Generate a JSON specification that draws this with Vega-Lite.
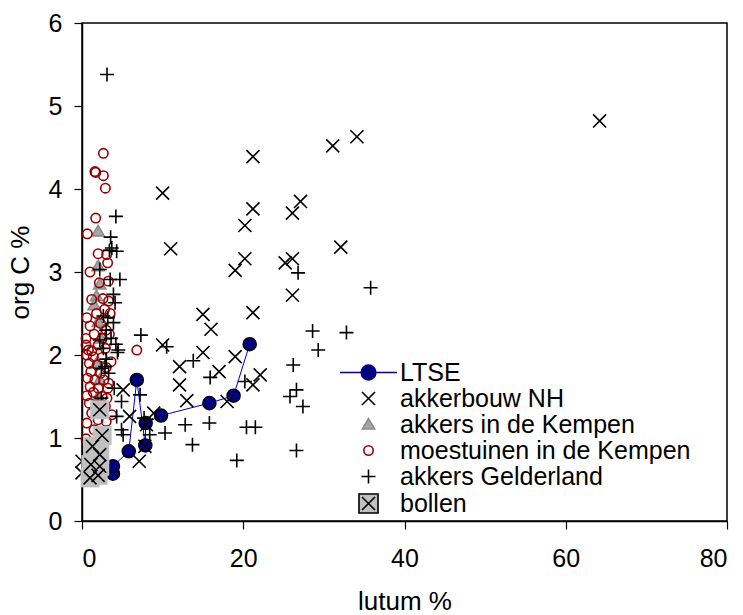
{
  "$schema": "https://vega.github.io/schema/vega-lite/v6.json",
  "autosize": "none",
  "width": 645,
  "height": 498,
  "padding": {"left": 82, "top": 23, "right": 16, "bottom": 94},
  "background": "white",
  "config": {
    "view": {"stroke": "black", "strokeWidth": 1.5},
    "font": "Liberation Sans",
    "axis": {
      "grid": false, "domainColor": "black", "domainWidth": 1.5,
      "tickColor": "black", "tickWidth": 1.2, "tickSize": 8,
      "labelFont": "Liberation Sans", "labelFontSize": 25, "labelColor": "black",
      "titleFont": "Liberation Sans", "titleFontSize": 26, "titleFontWeight": "normal", "titleColor": "black"
    },
    "legend": {"labelFont": "Liberation Sans", "labelFontSize": 25, "labelColor": "black", "labelLimit": 500}
  },
  "datasets": {
    "ltse": [
      {"s": "LTSE", "o": 1, "x": 3.84, "y": 0.57},
      {"s": "LTSE", "o": 2, "x": 3.84, "y": 0.66},
      {"s": "LTSE", "o": 3, "x": 5.8, "y": 0.84},
      {"s": "LTSE", "o": 4, "x": 6.8, "y": 1.70},
      {"s": "LTSE", "o": 5, "x": 7.85, "y": 0.91},
      {"s": "LTSE", "o": 6, "x": 7.9, "y": 1.18},
      {"s": "LTSE", "o": 7, "x": 9.8, "y": 1.27},
      {"s": "LTSE", "o": 8, "x": 15.8, "y": 1.42},
      {"s": "LTSE", "o": 9, "x": 18.8, "y": 1.51},
      {"s": "LTSE", "o": 10, "x": 20.8, "y": 2.13}
    ],
    "pts": [
      {"s": "akkerbouw NH", "x": 64.2, "y": 4.82},
      {"s": "akkerbouw NH", "x": 34.1, "y": 4.63},
      {"s": "akkerbouw NH", "x": 31.1, "y": 4.52},
      {"s": "akkerbouw NH", "x": 21.2, "y": 4.39},
      {"s": "akkerbouw NH", "x": 10.0, "y": 3.95},
      {"s": "akkerbouw NH", "x": 27.1, "y": 3.85},
      {"s": "akkerbouw NH", "x": 21.2, "y": 3.76},
      {"s": "akkerbouw NH", "x": 26.1, "y": 3.71},
      {"s": "akkerbouw NH", "x": 20.2, "y": 3.56},
      {"s": "akkerbouw NH", "x": 11.0, "y": 3.28},
      {"s": "akkerbouw NH", "x": 32.1, "y": 3.30},
      {"s": "akkerbouw NH", "x": 20.2, "y": 3.16},
      {"s": "akkerbouw NH", "x": 19.0, "y": 3.02},
      {"s": "akkerbouw NH", "x": 25.2, "y": 3.11},
      {"s": "akkerbouw NH", "x": 26.1, "y": 3.16},
      {"s": "akkerbouw NH", "x": 26.1, "y": 2.72},
      {"s": "akkerbouw NH", "x": 21.2, "y": 2.51},
      {"s": "akkerbouw NH", "x": 15.0, "y": 2.49},
      {"s": "akkerbouw NH", "x": 16.0, "y": 2.31},
      {"s": "akkerbouw NH", "x": 10.0, "y": 2.12},
      {"s": "akkerbouw NH", "x": 15.0, "y": 2.03},
      {"s": "akkerbouw NH", "x": 19.0, "y": 1.98},
      {"s": "akkerbouw NH", "x": 17.0, "y": 1.80},
      {"s": "akkerbouw NH", "x": 12.1, "y": 1.86},
      {"s": "akkerbouw NH", "x": 12.1, "y": 1.64},
      {"s": "akkerbouw NH", "x": 22.1, "y": 1.76},
      {"s": "akkerbouw NH", "x": 21.2, "y": 1.64},
      {"s": "akkerbouw NH", "x": 13.0, "y": 1.45},
      {"s": "akkerbouw NH", "x": 18.0, "y": 1.44},
      {"s": "akkerbouw NH", "x": 5.1, "y": 1.58},
      {"s": "akkerbouw NH", "x": 5.9, "y": 1.26},
      {"s": "akkerbouw NH", "x": 8.0, "y": 1.16},
      {"s": "akkerbouw NH", "x": 7.8, "y": 0.90},
      {"s": "akkerbouw NH", "x": 7.1, "y": 0.72},
      {"s": "akkerbouw NH", "x": 8.9, "y": 1.30},
      {"s": "akkerbouw NH", "x": 0.0, "y": 0.72},
      {"s": "akkerbouw NH", "x": 0.0, "y": 0.58},
      {"s": "akkers in de Kempen", "x": 2.0, "y": 3.49},
      {"s": "akkers in de Kempen", "x": 2.0, "y": 3.07},
      {"s": "akkers in de Kempen", "x": 1.8, "y": 2.71},
      {"s": "akkers in de Kempen", "x": 2.2, "y": 2.85},
      {"s": "akkers in de Kempen", "x": 1.5, "y": 2.6},
      {"s": "akkers in de Kempen", "x": 2.0, "y": 2.4},
      {"s": "akkers in de Kempen", "x": 2.3, "y": 2.2},
      {"s": "akkers in de Kempen", "x": 1.8, "y": 1.9},
      {"s": "akkers in de Kempen", "x": 2.2, "y": 1.7},
      {"s": "akkers in de Kempen", "x": 2.0, "y": 1.5},
      {"s": "moestuinen in de Kempen", "x": 2.65, "y": 4.43},
      {"s": "moestuinen in de Kempen", "x": 1.6, "y": 4.21},
      {"s": "moestuinen in de Kempen", "x": 1.7, "y": 4.20},
      {"s": "moestuinen in de Kempen", "x": 2.65, "y": 4.16},
      {"s": "moestuinen in de Kempen", "x": 2.9, "y": 4.01},
      {"s": "moestuinen in de Kempen", "x": 1.7, "y": 3.65},
      {"s": "moestuinen in de Kempen", "x": 0.66, "y": 3.46},
      {"s": "moestuinen in de Kempen", "x": 2.0, "y": 3.22},
      {"s": "moestuinen in de Kempen", "x": 3.06, "y": 3.21},
      {"s": "moestuinen in de Kempen", "x": 3.18, "y": 3.11},
      {"s": "moestuinen in de Kempen", "x": 0.99, "y": 3.0},
      {"s": "moestuinen in de Kempen", "x": 2.15, "y": 2.87},
      {"s": "moestuinen in de Kempen", "x": 3.27, "y": 2.89},
      {"s": "moestuinen in de Kempen", "x": 1.2, "y": 2.67},
      {"s": "moestuinen in de Kempen", "x": 2.6, "y": 2.68},
      {"s": "moestuinen in de Kempen", "x": 3.3, "y": 2.65},
      {"s": "moestuinen in de Kempen", "x": 0.6, "y": 2.45},
      {"s": "moestuinen in de Kempen", "x": 1.8, "y": 2.5},
      {"s": "moestuinen in de Kempen", "x": 2.8, "y": 2.55},
      {"s": "moestuinen in de Kempen", "x": 3.5, "y": 2.5},
      {"s": "moestuinen in de Kempen", "x": 1.0, "y": 2.35},
      {"s": "moestuinen in de Kempen", "x": 2.3, "y": 2.38},
      {"s": "moestuinen in de Kempen", "x": 3.0, "y": 2.3},
      {"s": "moestuinen in de Kempen", "x": 0.5, "y": 2.2},
      {"s": "moestuinen in de Kempen", "x": 1.5, "y": 2.25},
      {"s": "moestuinen in de Kempen", "x": 2.5, "y": 2.2},
      {"s": "moestuinen in de Kempen", "x": 3.4, "y": 2.25},
      {"s": "moestuinen in de Kempen", "x": 0.5, "y": 2.12},
      {"s": "moestuinen in de Kempen", "x": 0.8, "y": 2.06},
      {"s": "moestuinen in de Kempen", "x": 1.2, "y": 2.05},
      {"s": "moestuinen in de Kempen", "x": 2.0, "y": 2.12},
      {"s": "moestuinen in de Kempen", "x": 2.9, "y": 2.08},
      {"s": "moestuinen in de Kempen", "x": 0.6, "y": 2.0},
      {"s": "moestuinen in de Kempen", "x": 1.4, "y": 1.98},
      {"s": "moestuinen in de Kempen", "x": 2.5, "y": 1.97},
      {"s": "moestuinen in de Kempen", "x": 3.6, "y": 1.92},
      {"s": "moestuinen in de Kempen", "x": 0.9, "y": 1.9},
      {"s": "moestuinen in de Kempen", "x": 1.9, "y": 1.88},
      {"s": "moestuinen in de Kempen", "x": 3.0, "y": 1.85},
      {"s": "moestuinen in de Kempen", "x": 1.1, "y": 1.8},
      {"s": "moestuinen in de Kempen", "x": 2.3, "y": 1.78},
      {"s": "moestuinen in de Kempen", "x": 0.7, "y": 1.72},
      {"s": "moestuinen in de Kempen", "x": 1.6, "y": 1.7},
      {"s": "moestuinen in de Kempen", "x": 2.7, "y": 1.7},
      {"s": "moestuinen in de Kempen", "x": 3.3, "y": 1.66},
      {"s": "moestuinen in de Kempen", "x": 1.0, "y": 1.62},
      {"s": "moestuinen in de Kempen", "x": 2.0, "y": 1.6},
      {"s": "moestuinen in de Kempen", "x": 3.2, "y": 1.6},
      {"s": "moestuinen in de Kempen", "x": 0.6, "y": 1.51},
      {"s": "moestuinen in de Kempen", "x": 1.4, "y": 1.55},
      {"s": "moestuinen in de Kempen", "x": 2.5, "y": 1.5},
      {"s": "moestuinen in de Kempen", "x": 3.1, "y": 1.48},
      {"s": "moestuinen in de Kempen", "x": 0.9, "y": 1.42},
      {"s": "moestuinen in de Kempen", "x": 1.8, "y": 1.4},
      {"s": "moestuinen in de Kempen", "x": 2.9, "y": 1.38},
      {"s": "moestuinen in de Kempen", "x": 1.2, "y": 1.3},
      {"s": "moestuinen in de Kempen", "x": 3.7, "y": 1.28},
      {"s": "moestuinen in de Kempen", "x": 0.6, "y": 1.18},
      {"s": "moestuinen in de Kempen", "x": 2.0, "y": 1.22},
      {"s": "moestuinen in de Kempen", "x": 3.0, "y": 1.2},
      {"s": "moestuinen in de Kempen", "x": 0.5, "y": 0.99},
      {"s": "moestuinen in de Kempen", "x": 1.5, "y": 1.1},
      {"s": "moestuinen in de Kempen", "x": 6.8, "y": 2.06},
      {"s": "akkers Gelderland", "x": 3.1, "y": 5.38},
      {"s": "akkers Gelderland", "x": 4.2, "y": 3.67},
      {"s": "akkers Gelderland", "x": 3.55, "y": 3.42},
      {"s": "akkers Gelderland", "x": 3.7, "y": 3.29},
      {"s": "akkers Gelderland", "x": 4.3, "y": 3.25},
      {"s": "akkers Gelderland", "x": 3.4, "y": 3.26},
      {"s": "akkers Gelderland", "x": 4.7, "y": 2.91},
      {"s": "akkers Gelderland", "x": 3.5, "y": 2.91},
      {"s": "akkers Gelderland", "x": 2.2, "y": 3.03},
      {"s": "akkers Gelderland", "x": 3.9, "y": 2.73},
      {"s": "akkers Gelderland", "x": 4.1, "y": 2.63},
      {"s": "akkers Gelderland", "x": 2.65, "y": 2.47},
      {"s": "akkers Gelderland", "x": 3.9, "y": 2.39},
      {"s": "akkers Gelderland", "x": 3.2, "y": 2.45},
      {"s": "akkers Gelderland", "x": 2.2, "y": 2.18},
      {"s": "akkers Gelderland", "x": 4.5, "y": 2.06},
      {"s": "akkers Gelderland", "x": 2.65, "y": 2.08},
      {"s": "akkers Gelderland", "x": 4.2, "y": 2.13},
      {"s": "akkers Gelderland", "x": 4.4, "y": 2.03},
      {"s": "akkers Gelderland", "x": 2.85, "y": 1.86},
      {"s": "akkers Gelderland", "x": 3.3, "y": 1.78},
      {"s": "akkers Gelderland", "x": 2.4, "y": 1.84},
      {"s": "akkers Gelderland", "x": 3.0, "y": 2.3},
      {"s": "akkers Gelderland", "x": 3.6, "y": 2.2},
      {"s": "akkers Gelderland", "x": 3.0, "y": 1.95},
      {"s": "akkers Gelderland", "x": 4.0, "y": 1.6},
      {"s": "akkers Gelderland", "x": 4.9, "y": 1.44},
      {"s": "akkers Gelderland", "x": 4.3, "y": 1.26},
      {"s": "akkers Gelderland", "x": 4.9, "y": 1.10},
      {"s": "akkers Gelderland", "x": 2.4, "y": 1.48},
      {"s": "akkers Gelderland", "x": 5.1, "y": 1.04},
      {"s": "akkers Gelderland", "x": 7.2, "y": 1.52},
      {"s": "akkers Gelderland", "x": 7.7, "y": 1.24},
      {"s": "akkers Gelderland", "x": 8.4, "y": 1.04},
      {"s": "akkers Gelderland", "x": 7.3, "y": 2.24},
      {"s": "akkers Gelderland", "x": 10.5, "y": 2.10},
      {"s": "akkers Gelderland", "x": 13.8, "y": 1.93},
      {"s": "akkers Gelderland", "x": 15.9, "y": 1.73},
      {"s": "akkers Gelderland", "x": 26.8, "y": 2.99},
      {"s": "akkers Gelderland", "x": 35.8, "y": 2.81},
      {"s": "akkers Gelderland", "x": 28.6, "y": 2.29},
      {"s": "akkers Gelderland", "x": 32.8, "y": 2.27},
      {"s": "akkers Gelderland", "x": 29.3, "y": 2.06},
      {"s": "akkers Gelderland", "x": 26.2, "y": 1.88},
      {"s": "akkers Gelderland", "x": 26.6, "y": 1.58},
      {"s": "akkers Gelderland", "x": 25.8, "y": 1.50},
      {"s": "akkers Gelderland", "x": 27.4, "y": 1.38},
      {"s": "akkers Gelderland", "x": 20.4, "y": 1.13},
      {"s": "akkers Gelderland", "x": 21.5, "y": 1.13},
      {"s": "akkers Gelderland", "x": 26.6, "y": 0.85},
      {"s": "akkers Gelderland", "x": 19.2, "y": 0.73},
      {"s": "akkers Gelderland", "x": 15.8, "y": 1.18},
      {"s": "akkers Gelderland", "x": 12.8, "y": 1.16},
      {"s": "akkers Gelderland", "x": 13.7, "y": 0.92},
      {"s": "akkers Gelderland", "x": 10.3, "y": 1.06},
      {"s": "akkers Gelderland", "x": 20.2, "y": 1.68}
    ],
    "bollen": [
      {"s": "bollen", "x": 2.2, "y": 1.34},
      {"s": "bollen", "x": 2.5, "y": 1.03},
      {"s": "bollen", "x": 1.3, "y": 0.90},
      {"s": "bollen", "x": 2.2, "y": 0.80},
      {"s": "bollen", "x": 1.1, "y": 0.68},
      {"s": "bollen", "x": 2.2, "y": 0.66},
      {"s": "bollen", "x": 1.0, "y": 0.52},
      {"s": "bollen", "x": 2.0, "y": 0.55}
    ]
  },
  "layer": [
    {
      "data": {"name": "ltse"},
      "mark": {"type": "line", "color": "#0000CC", "strokeWidth": 1},
      "encoding": {
        "x": {"field": "x", "type": "quantitative", "scale": {"domain": [0, 80], "nice": false}, "axis": {"values": [0, 20, 40, 60, 80], "format": "d", "title": "lutum %", "labelPadding": 17, "titleY": 88, "titleBaseline": "alphabetic"}},
        "y": {"field": "y", "type": "quantitative", "scale": {"domain": [0, 6], "nice": false}, "axis": {"values": [0, 1, 2, 3, 4, 5, 6], "format": "d", "title": "org C %", "labelPadding": 12, "titleX": -62, "titleY": 249, "titleAngle": -90, "titleAlign": "center", "titleBaseline": "middle"}},
        "order": {"field": "o", "type": "quantitative"}
      }
    },
    {
      "data": {"name": "ltse"},
      "mark": {"type": "point", "shape": "circle", "size": 170, "filled": true, "fill": "#000080", "stroke": "black", "strokeWidth": 1.5, "opacity": 1},
      "encoding": {
        "x": {"field": "x", "type": "quantitative"},
        "y": {"field": "y", "type": "quantitative"}
      }
    },
    {
      "data": {"name": "pts"},
      "mark": {"type": "point", "size": 196, "strokeWidth": 1.6, "opacity": 1},
      "encoding": {
        "x": {"field": "x", "type": "quantitative"},
        "y": {"field": "y", "type": "quantitative"},
        "shape": {
          "field": "s", "type": "nominal",
          "scale": {
            "domain": ["LTSE", "akkerbouw NH", "akkers in de Kempen", "moestuinen in de Kempen", "akkers Gelderland", "bollen"],
            "range": [
              "M-4.07,0H-1.05M1.05,0H4.07M-1.05,0A1.05,1.05 0 1,1 1.05,0A1.05,1.05 0 1,1 -1.05,0Z",
              "M-0.93,-0.93L0.93,0.93M-0.93,0.93L0.93,-0.93",
              "M0,-0.85L0.87,0.65L-0.87,0.65Z",
              "M-0.67,0A0.67,0.67 0 1,1 0.67,0A0.67,0.67 0 1,1 -0.67,0Z",
              "M-1,0L1,0M0,-1L0,1",
              "M-1.36,-1.36H1.36V1.36H-1.36ZM-0.93,-0.93L0.93,0.93M-0.93,0.93L0.93,-0.93"
            ]
          },
          "legend": {
            "title": null, "orient": "none", "legendX": 274, "legendY": 337,
            "symbolSize": 196, "symbolStrokeWidth": 1.6, "labelOffset": 19, "rowPadding": 0, "padding": 0
          }
        },
        "fill": {
          "field": "s", "type": "nominal",
          "scale": {
            "domain": ["LTSE", "akkerbouw NH", "akkers in de Kempen", "moestuinen in de Kempen", "akkers Gelderland", "bollen"],
            "range": ["#000080", "transparent", "#A6A6A6", "transparent", "transparent", "#C0C0C0"]
          },
          "legend": {"title": null, "orient": "none", "legendX": 274, "legendY": 337, "symbolSize": 196, "symbolStrokeWidth": 1.6, "labelOffset": 19, "rowPadding": 0, "padding": 0}
        },
        "stroke": {
          "field": "s", "type": "nominal",
          "scale": {
            "domain": ["LTSE", "akkerbouw NH", "akkers in de Kempen", "moestuinen in de Kempen", "akkers Gelderland", "bollen"],
            "range": ["#000080", "black", "#8C8C8C", "#990000", "black", "black"]
          },
          "legend": {"title": null, "orient": "none", "legendX": 274, "legendY": 337, "symbolSize": 196, "symbolStrokeWidth": 1.6, "labelOffset": 19, "rowPadding": 0, "padding": 0}
        }
      }
    },
    {
      "data": {"name": "bollen"},
      "mark": {"type": "square", "size": 361, "fill": "#C0C0C0", "strokeWidth": 0, "opacity": 1},
      "encoding": {
        "x": {"field": "x", "type": "quantitative"},
        "y": {"field": "y", "type": "quantitative"}
      }
    },
    {
      "data": {"name": "bollen"},
      "mark": {"type": "point", "shape": "M-0.93,-0.93L0.93,0.93M-0.93,0.93L0.93,-0.93", "size": 196, "stroke": "black", "strokeWidth": 1.6, "opacity": 1},
      "encoding": {
        "x": {"field": "x", "type": "quantitative"},
        "y": {"field": "y", "type": "quantitative"}
      }
    }
  ]
}
